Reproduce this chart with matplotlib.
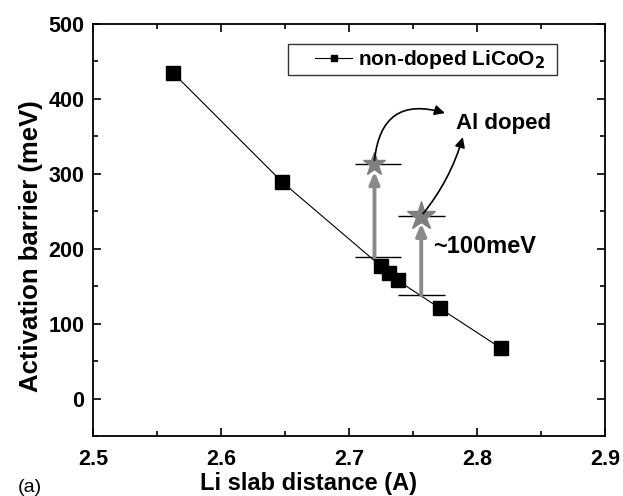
import numpy as np
import matplotlib
matplotlib.use("Agg")
import matplotlib.pyplot as plt
from matplotlib.patches import FancyArrowPatch
from matplotlib.ticker import MultipleLocator
from matplotlib.legend_handler import HandlerLine2D
from matplotlib.lines import Line2D

plt.rcParams["font.family"] = ["Liberation Sans", "DejaVu Sans"]
plt.rcParams["font.weight"] = "bold"
plt.rcParams["mathtext.default"] = "bf"

# non-doped LiCoO2
slab = [2.563, 2.648, 2.725, 2.731, 2.738, 2.771, 2.8185]
barrier = [434, 289, 177, 168, 158, 121, 68]

# Al doped points and the reference levels below them
doped_x = [2.720, 2.7565]
doped_y = [313, 244]
base_y = [189, 138]
doped_ms = [17, 21]
bar_lo = [2.7047, 2.7380]
bar_hi = [2.7406, 2.7750]

fig = plt.figure(figsize=(6.23, 4.96), dpi=100)
ax = fig.add_axes([0.149, 0.120, 0.822, 0.832])

ax.plot(slab, barrier, color="black", lw=0.8, marker="s", ms=10,
        mfc="black", mec="black", label="non-doped LiCoO$_2$")

# horizontal reference bars
ax.hlines(doped_y, bar_lo, bar_hi, color="black", lw=1.0)
ax.hlines(base_y, bar_lo, bar_hi, color="black", lw=1.0)

# gray vertical arrows
for x, y0, y1 in zip(doped_x, base_y, doped_y):
    ax.annotate("", xy=(x, y1 - 10), xytext=(x, y0),
                arrowprops=dict(arrowstyle="-|>,head_length=0.7,head_width=0.3",
                                color="#8a8a8a", lw=2.8, shrinkA=0, shrinkB=0))

for x, y, ms in zip(doped_x, doped_y, doped_ms):
    ax.plot(x, y, marker="*", ms=ms, color="#7f7f7f", mec="#7f7f7f", zorder=5)

# curved black arrows to the label
a1 = FancyArrowPatch((2.720, 318), (2.775, 381),
                     connectionstyle="arc3,rad=-0.6",
                     arrowstyle="-|>,head_length=6,head_width=3",
                     color="black", lw=1.2, shrinkA=0, shrinkB=0, zorder=6)
ax.add_patch(a1)
a2 = FancyArrowPatch((2.758, 247), (2.789, 349),
                     connectionstyle="arc3,rad=0.1",
                     arrowstyle="-|>,head_length=6,head_width=3",
                     color="black", lw=1.2, shrinkA=0, shrinkB=0, zorder=6)
ax.add_patch(a2)

ax.text(2.7836, 360, "Al doped", fontsize=16, fontweight="bold", va="baseline")
ax.text(2.7656, 203, "~100meV", fontsize=17, fontweight="bold", va="center")

ax.set_xlim(2.5, 2.9)
ax.set_ylim(-50, 500)
ax.set_xticks([2.5, 2.6, 2.7, 2.8, 2.9])
ax.set_xticklabels(["2.5", "2.6", "2.7", "2.8", "2.9"])
ax.xaxis.set_minor_locator(MultipleLocator(0.05))
ax.yaxis.set_major_locator(MultipleLocator(100))
ax.yaxis.set_minor_locator(MultipleLocator(50))
ax.tick_params(which="both", direction="in", top=True, right=True,
               labelsize=15.5, width=1.2)
ax.tick_params(which="major", length=6)
ax.tick_params(which="minor", length=3.5)
ax.tick_params(axis="x", pad=9)
ax.tick_params(axis="y", pad=6)
for lab in ax.get_xticklabels() + ax.get_yticklabels():
    lab.set_fontweight("bold")
for s in ax.spines.values():
    s.set_linewidth(1.3)

ax.set_xlabel("Li slab distance (A)", fontsize=17, fontweight="bold")
ax.xaxis.set_label_coords(0.422, -0.085)
ax.set_ylabel("Activation barrier (meV)", fontsize=18.5, fontweight="bold")
ax.yaxis.set_label_coords(-0.098, 0.462)

leg = ax.legend(loc="upper right", bbox_to_anchor=(0.906, 0.9515),
                fontsize=15, frameon=True, fancybox=False,
                handlelength=2.9, handletextpad=0.25, markerscale=0.38,
                borderpad=0.2, borderaxespad=0,
                handler_map={Line2D: HandlerLine2D(xpad=1.1)})
leg.get_frame().set_edgecolor("black")
leg.get_frame().set_linewidth(1.0)
for t in leg.get_texts():
    t.set_fontweight("bold")
    t.set_text(t.get_text() + "  ")

fig.text(0.029, 0.0, "(a)", fontsize=14, fontweight="normal", va="bottom")

fig.savefig("out.png", dpi=100)
